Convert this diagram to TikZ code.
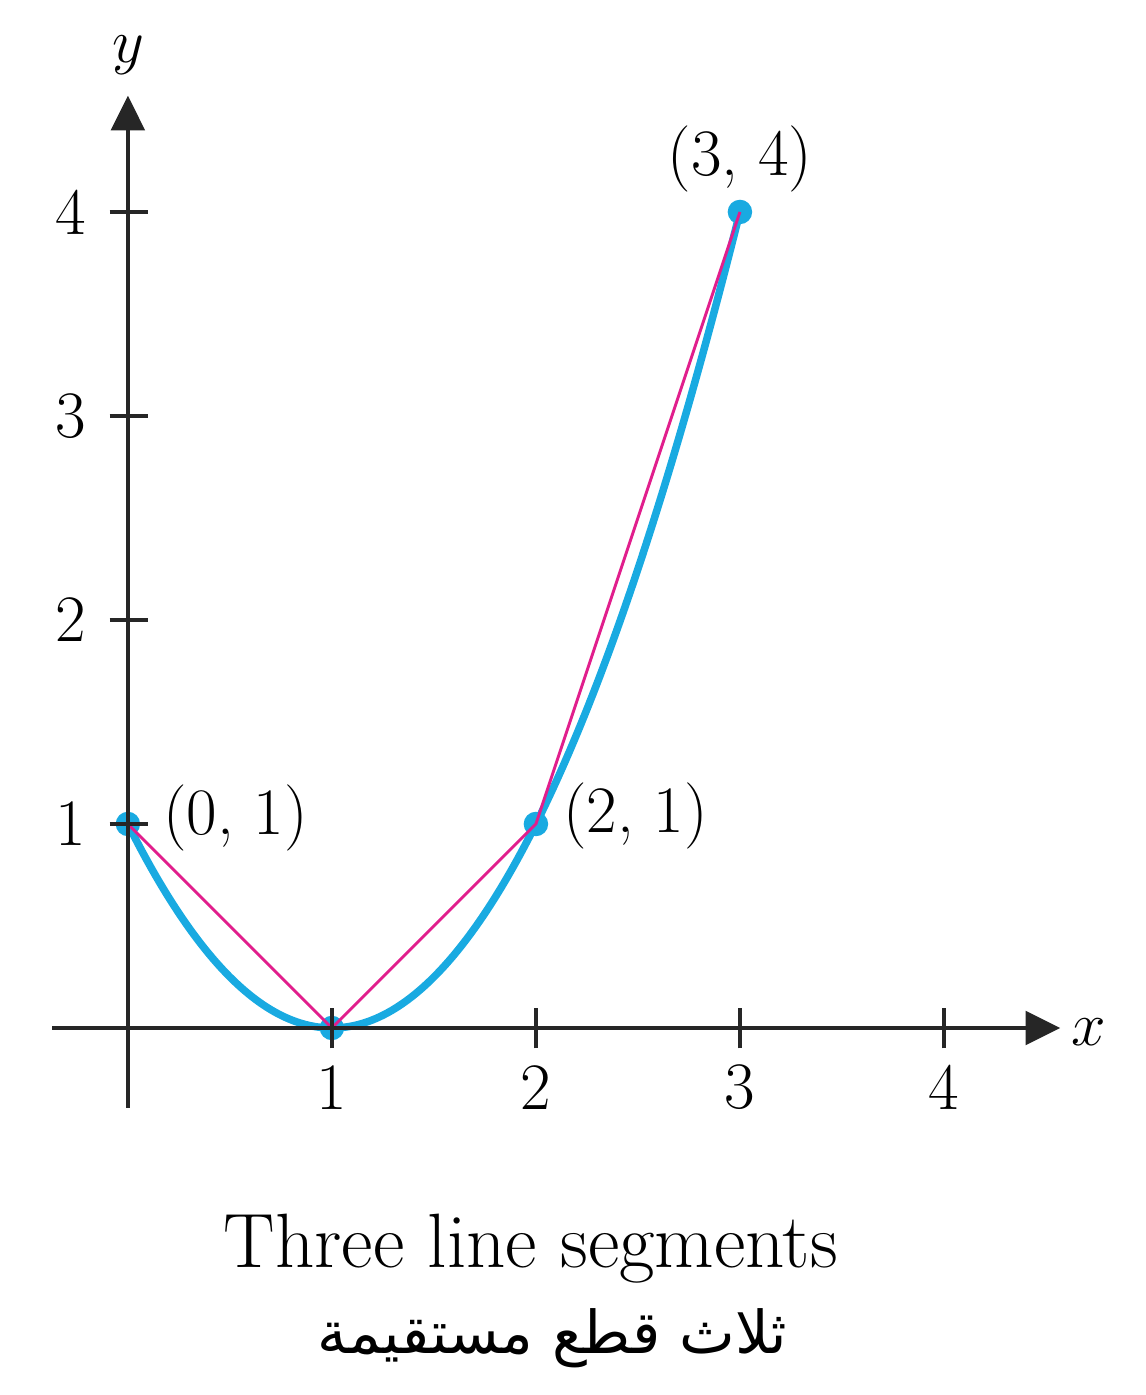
\documentclass[tikz,border=0pt]{standalone}
\usepackage{fontspec}
\newfontfamily\arabicfont[Script=Arabic]{DejaVu Sans}
\TeXXeTstate=1
\usetikzlibrary{arrows.meta}
\definecolor{curveblue}{RGB}{25,170,225}
\definecolor{segmag}{RGB}{225,30,140}
\begin{document}
\begin{tikzpicture}[x=2cm,y=2cm,
  axis/.style={line width=0.9pt,black!85,-{Triangle[length=0.34cm,width=0.33cm]}},
  tickmark/.style={line width=0.9pt,black!85},
  lbl/.style={font=\fontsize{18.5}{21}\selectfont,inner sep=0pt},
  dot/.style={circle,fill=curveblue,inner sep=0pt,minimum size=0.24cm},
  curve/.style={curveblue,line width=2.1pt},
  seg/.style={segmag,line width=0.8pt}]
\useasboundingbox (-0.627,-1.799) rectangle (4.990,5.039);
% points
\node[dot] (p0) at (0,1) {};
\node[dot] (p1) at (1,0) {};
\node[dot] (p2) at (2,1) {};
\node[dot] (p3) at (3,4) {};
% curve
\draw[curve] plot[domain=0:3,samples=80,smooth] (\x,{(\x-1)^2});
% segments
\draw[seg] (p0.center) -- (p1.center) -- (p2.center) -- (p3.center);
% axes
\coordinate (xs) at (-0.37,0);
\coordinate (xe) at (4.57,0);
\coordinate (ys) at (0,-0.39);
\coordinate (ye) at (0,4.57);
\draw[axis] (xs) -- (xe);
\draw[axis] (ys) -- (ye);
\node[lbl,anchor=west] (xl) at (4.62,-0.02) {$x$};
\node[lbl] (yl) at (0,4.77) {$y$};
% ticks
\foreach \i in {1,2,3,4}{
  \draw[tickmark] (\i,-0.1) -- (\i,0.1);
  \node[lbl] (tx\i) at (\i,-0.29) {\i};
  \draw[tickmark] (-0.09,\i) -- (0.1,\i);
  \node[lbl] (ty\i) at (-0.28,\i) {\i};
}
% point labels
\node[lbl,anchor=west] (l0) at (0.17,1.03) {(0, 1)};
\node[lbl,anchor=west] (l2) at (2.13,1.04) {(2, 1)};
\node[lbl] (l3) at (3.0,4.26) {(3, 4)};
% captions
\node[inner sep=0pt,font=\fontsize{21.5}{25}\selectfont] (cap) at (1.975,-1.08) {Three line segments};
\node[inner sep=0pt,font=\arabicfont\fontsize{16.5}{20}\selectfont] (acap) at (2.08,-1.52) {\beginR ثلاث قطع مستقيمة\endR};
\end{tikzpicture}
\end{document}
